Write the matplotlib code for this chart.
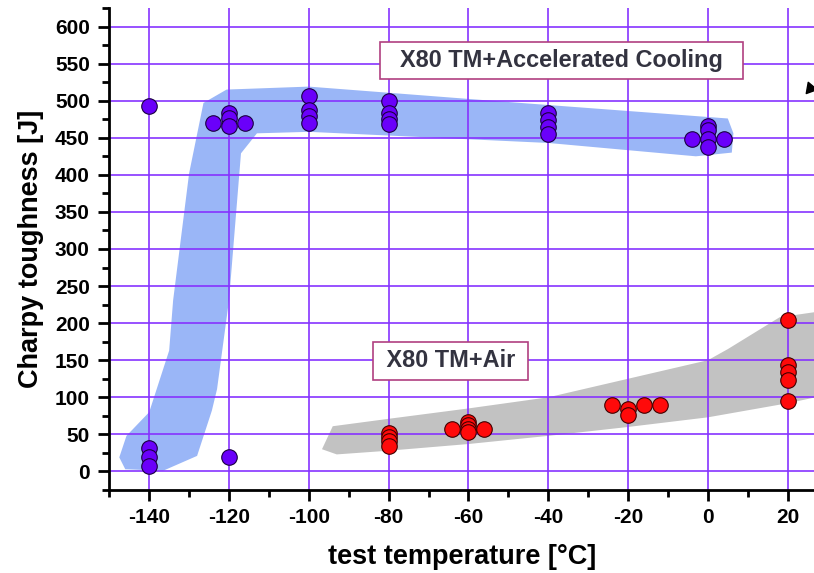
import matplotlib
matplotlib.use("Agg")
import matplotlib.pyplot as plt
import numpy as np
from matplotlib.ticker import MultipleLocator

plt.rcParams['font.family'] = ['Liberation Sans', 'DejaVu Sans']
plt.rcParams['axes.unicode_minus'] = False

# Accelerated cooling (purple) data
ac_temp = [-140, -140, -140, -140,
           -120, -124, -120, -120, -116, -120,
           -100, -100, -100, -100,
           -80, -80, -80, -80,
           -40, -40, -40, -40,
           0, 0, -4, 4, 0, 0]
ac_energy = [493, 32, 20, 7,
             19, 470, 483, 476, 470, 466,
             507, 487, 480, 470,
             499, 483, 475, 468,
             483, 474, 465, 455,
             466, 460, 448, 448, 448, 438]

# Air cooled (red) data
air_temp = [-80, -80, -80, -80,
            -64, -60, -60, -60, -56, -60,
            -24, -20, -20, -16, -12,
            20, 20, 20, 20, 20]
air_energy = [52, 47, 41, 34,
              57, 67, 62, 57, 57, 53,
              89, 84, 76, 89, 89,
              204, 143, 134, 124, 95]

# Scatter bands (data coordinates)
blue_band_x = [-120.6, -100, -47, 5, 6.4, 6, -3, -40, -100, -113, -117, -120, -123, -124.3,
               -128, -136.5, -146, -147.5, -145.7, -140, -135, -134, -130, -126.4]
blue_band_y = [515, 519, 497, 476, 456, 430, 425, 443, 458, 456, 429, 231, 111, 82,
               21, 1, 3, 19, 48, 80, 163, 231, 402, 497]
gray_band_x = [-96.7, -93, -80, -60, -40, -20, 0, 20, 27, 27, 18, 5, 0, -20, -40, -60, -80, -94]
gray_band_y = [30, 23, 28, 37, 48, 60, 73, 92, 100, 215, 208, 165, 150, 125, 100, 85, 71, 61]

x_ticks = [-140, -120, -100, -80, -60, -40, -20, 0, 20]
y_ticks = [0, 50, 100, 150, 200, 250, 300, 350, 400, 450, 500, 550, 600]

fig = plt.figure(figsize=(8.14, 5.73), dpi=100)
ax = fig.add_axes([109.3 / 814, 83 / 573, (814 - 109.3) / 814, 482 / 573])

ax.fill(blue_band_x, blue_band_y, color='#9ab6f7', lw=0, zorder=1)
ax.fill(gray_band_x, gray_band_y, color='#c2c2c2', lw=0, zorder=1)

ax.scatter(ac_temp, ac_energy, s=125, c='#6a00fa', edgecolors='#1a0040', linewidths=0.8, zorder=3)
ax.scatter(air_temp, air_energy, s=125, c='#ff0a0a', edgecolors='#400000', linewidths=0.8, zorder=3)

# partial arrowhead at top right
ax.scatter([25.6], [517], marker=(3, 0, 20), s=90, c='black', zorder=4, clip_on=True)

ax.set_xlim(-150, 26.6)
ax.set_ylim(-25, 625)
ax.set_xticks(x_ticks)
ax.set_yticks(y_ticks)
ax.xaxis.set_minor_locator(MultipleLocator(10))
ax.yaxis.set_minor_locator(MultipleLocator(25))
ax.grid(True, which='major', color='#8633ff', lw=1.2)
ax.set_axisbelow('line')

for s in ['top', 'right']:
    ax.spines[s].set_visible(False)
for s in ['left', 'bottom']:
    ax.spines[s].set_linewidth(2)
ax.tick_params(which='major', length=8, width=2, direction='out', labelsize=15)
ax.tick_params(axis='x', which='major', pad=5)
ax.tick_params(axis='y', which='major', pad=6)
ax.tick_params(which='minor', length=5, width=2, direction='out')
for lab in ax.get_xticklabels() + ax.get_yticklabels():
    lab.set_fontweight('bold')

ax.set_xlabel('test temperature [°C]', fontsize=19.5, fontweight='bold', labelpad=12)
ax.set_ylabel('Charpy toughness [J]', fontsize=19.5, fontweight='bold', labelpad=8)

box = dict(boxstyle='square,pad=0.3', fc='white', ec='#b04080', lw=1.2)
ax.text(-36.7, 554, '  X80 TM+Accelerated Cooling  ', fontsize=16.9, fontweight='bold',
        color='#333340', ha='center', va='center', bbox=box, zorder=5)
ax.text(-64.5, 149, ' X80 TM+Air ', fontsize=16.9, fontweight='bold',
        color='#333340', ha='center', va='center', bbox=box, zorder=5)

fig.savefig('out.png', dpi=100)
